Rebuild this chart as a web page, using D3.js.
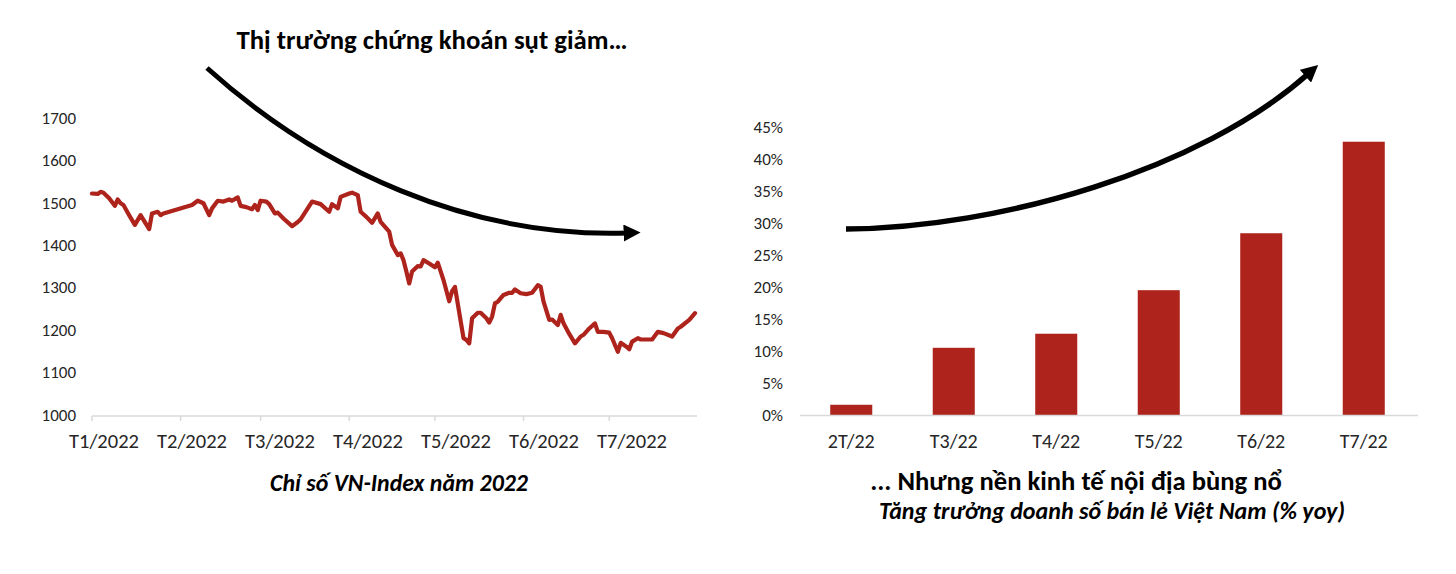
<!DOCTYPE html>
<html><head><meta charset="utf-8">
<script src="https://cdn.jsdelivr.net/npm/d3@7"></script>
<style>html,body{margin:0;padding:0;background:#fff;}svg{display:block;}</style>
</head><body>
<svg id="c" width="1456" height="574"></svg>
<script>
// ---------- DATA ----------
const vnDates = ["2022-01-01","2022-01-03","2022-01-04","2022-01-05","2022-01-07","2022-01-09","2022-01-10","2022-01-11","2022-01-12","2022-01-14","2022-01-16","2022-01-18","2022-01-21","2022-01-22","2022-01-24","2022-01-25","2022-01-26",
"2022-02-05","2022-02-07","2022-02-09","2022-02-11","2022-02-12","2022-02-14","2022-02-16","2022-02-18","2022-02-19","2022-02-21","2022-02-22","2022-02-24","2022-02-26","2022-02-27","2022-02-28",
"2022-03-01","2022-03-03","2022-03-04","2022-03-06","2022-03-07","2022-03-09","2022-03-12","2022-03-14","2022-03-15","2022-03-19","2022-03-22","2022-03-25","2022-03-26","2022-03-28","2022-03-29",
"2022-04-01","2022-04-02","2022-04-03","2022-04-04","2022-04-05","2022-04-07","2022-04-09","2022-04-11","2022-04-12","2022-04-15","2022-04-16","2022-04-18","2022-04-19","2022-04-20","2022-04-21","2022-04-22","2022-04-23","2022-04-25","2022-04-26","2022-04-27","2022-04-29",
"2022-05-01","2022-05-02","2022-05-04","2022-05-06","2022-05-07","2022-05-08","2022-05-11","2022-05-12","2022-05-13","2022-05-14","2022-05-16","2022-05-17","2022-05-19","2022-05-20","2022-05-21","2022-05-22","2022-05-23","2022-05-25","2022-05-27","2022-05-28","2022-05-29","2022-05-31",
"2022-06-02","2022-06-04","2022-06-06","2022-06-07","2022-06-08","2022-06-10","2022-06-11","2022-06-13","2022-06-14","2022-06-15","2022-06-17","2022-06-19","2022-06-21","2022-06-22","2022-06-24","2022-06-26","2022-06-27","2022-06-29",
"2022-07-01","2022-07-02","2022-07-04","2022-07-05","2022-07-07","2022-07-08","2022-07-09","2022-07-11","2022-07-12","2022-07-16","2022-07-18","2022-07-20","2022-07-23","2022-07-25","2022-07-26","2022-07-29","2022-07-31"];
const vnValues = [1522,1521,1526,1524,1511,1493,1508,1499,1495,1471,1448,1471,1438,1475,1479,1471,1475,
1495,1505,1499,1471,1487,1505,1503,1508,1505,1513,1493,1490,1485,1495,1483,
1505,1503,1497,1475,1477,1463,1445,1455,1461,1503,1497,1479,1497,1487,1514,
1522,1524,1521,1518,1479,1467,1453,1475,1455,1432,1401,1377,1381,1365,1338,1310,1338,1351,1350,1365,1357,
1348,1359,1318,1268,1292,1302,1181,1177,1169,1228,1241,1241,1228,1218,1232,1263,1267,1283,1288,1288,1296,1287,
1285,1288,1306,1302,1267,1224,1225,1212,1236,1216,1191,1169,1185,1189,1204,1216,1196,1196,
1194,1181,1149,1170,1161,1155,1173,1181,1178,1178,1196,1193,1185,1204,1208,1224,1240];
const vnYTicks = [1000,1100,1200,1300,1400,1500,1600,1700];
const vnMonthLabels = ["T1/2022","T2/2022","T3/2022","T4/2022","T5/2022","T6/2022","T7/2022"];

const retailCats = ["2T/22","T3/22","T4/22","T5/22","T6/22","T7/22"];
const retailValues = [1.6, 10.5, 12.7, 19.5, 28.4, 42.7];
const retailYTicks = [0,5,10,15,20,25,30,35,40,45];

const titleLeft = "Thị trường chứng khoán sụt giảm…";
const captionLeft = "Chỉ số VN-Index năm 2022";
const titleRight = "... Nhưng nền kinh tế nội địa bùng nổ";
const captionRight = "Tăng trưởng doanh số bán lẻ Việt Nam (% yoy)";

// ---------- STYLE ----------
const RED = "#ae231b";
const FONT = "Carlito, Calibri, 'Liberation Sans', Arial, sans-serif";
const TXT = "#262626";
const AXIS = "#d9d9d9";

const svg = d3.select("#c");
const parse = d3.timeParse("%Y-%m-%d");
const series = vnDates.map((d,i)=>({date:parse(d), value:vnValues[i]}));

function fitText(sel, width){
  const node = sel.node();
  const fs = parseFloat(sel.attr("font-size"));
  const w = node.getComputedTextLength();
  if (w > 0) sel.attr("font-size", (fs*width/w).toFixed(2));
  return sel;
}

// ---------- LEFT CHART ----------
const x = d3.scaleTime().domain([parse("2022-01-01"), parse("2022-07-31")]).range([92, 695]);
const y = d3.scaleLinear().domain([1000,1700]).range([415,118]);
const xLab = d3.scalePoint().domain(vnMonthLabels).range([104, 632]);

const gL = svg.append("g");
gL.append("line").attr("x1",92).attr("x2",697).attr("y1",416).attr("y2",416)
  .attr("stroke",AXIS).attr("stroke-width",1.5);
gL.selectAll(".tk").data(d3.timeMonth.range(parse("2022-01-01"), parse("2022-08-01")))
  .join("line").attr("x1",d=>x(d)).attr("x2",d=>x(d)).attr("y1",416).attr("y2",421)
  .attr("stroke",AXIS).attr("stroke-width",1.5);
gL.selectAll(".yl").data(vnYTicks).join("text")
  .attr("x",76).attr("y",d=>y(d)).attr("dy","0.34em").attr("text-anchor","end")
  .attr("font-family",FONT).attr("font-size",17).attr("fill",TXT).text(d=>d);
gL.selectAll(".xl").data(vnMonthLabels).join("text")
  .attr("x",d=>xLab(d)).attr("y",441).attr("dy","0.34em").attr("text-anchor","middle")
  .attr("font-family",FONT).attr("font-size",20.5).attr("fill",TXT).text(d=>d);
gL.append("path").datum(series)
  .attr("d", d3.line().x(d=>x(d.date)).y(d=>y(d.value)))
  .attr("fill","none").attr("stroke",RED).attr("stroke-width",4.2)
  .attr("stroke-linejoin","round").attr("stroke-linecap","round");

// ---------- RIGHT CHART ----------
const xb = d3.scaleBand().domain(retailCats).range([800,1415]).paddingInner(0.59).paddingOuter(0.295);
const yb = d3.scaleLinear().domain([0,45]).range([415,127]);
const gR = svg.append("g");
gR.selectAll("rect").data(retailValues).join("rect")
  .attr("x",(d,i)=>xb(retailCats[i])).attr("width",xb.bandwidth())
  .attr("y",d=>yb(d)).attr("height",d=>yb(0)-yb(d)).attr("fill",RED);
gR.append("line").attr("x1",800).attr("x2",1418).attr("y1",415.5).attr("y2",415.5)
  .attr("stroke",AXIS).attr("stroke-width",1.5);
gR.selectAll(".yl").data(retailYTicks).join("text")
  .attr("x",783).attr("y",d=>yb(d)).attr("dy","0.34em").attr("text-anchor","end")
  .attr("font-family",FONT).attr("font-size",17).attr("fill",TXT).text(d=>d+"%");
gR.selectAll(".xl").data(retailCats).join("text")
  .attr("x",d=>xb(d)+xb.bandwidth()/2).attr("y",441).attr("dy","0.34em").attr("text-anchor","middle")
  .attr("font-family",FONT).attr("font-size",20).attr("fill",TXT).text(d=>d);

// ---------- ARROWS ----------
const defs = svg.append("defs");
defs.append("marker").attr("id","ah").attr("viewBox","0 0 10 10").attr("refX",2).attr("refY",5)
  .attr("markerUnits","userSpaceOnUse").attr("markerWidth",17).attr("markerHeight",17).attr("orient","auto")
  .append("path").attr("d","M0,0 L10,5 L0,10 Z").attr("fill","#000");
svg.append("path").attr("d","M207,68 C320,170 470,238 627,233")
  .attr("fill","none").attr("stroke","#000").attr("stroke-width",5).attr("marker-end","url(#ah)");
svg.append("path").attr("d","M846,229 C1000,228 1200,170 1308,74")
  .attr("fill","none").attr("stroke","#000").attr("stroke-width",5.5).attr("marker-end","url(#ah)");

// ---------- TEXTS ----------
fitText(svg.append("text").attr("x",432).attr("y",49).attr("text-anchor","middle")
  .attr("font-family",FONT).attr("font-weight","bold").attr("font-size",24).attr("fill","#000")
  .text(titleLeft), 391);
fitText(svg.append("text").attr("x",399).attr("y",491).attr("text-anchor","middle")
  .attr("font-family",FONT).attr("font-weight","bold").attr("font-style","italic").attr("font-size",20).attr("fill","#000")
  .text(captionLeft), 258);
fitText(svg.append("text").attr("x",1076).attr("y",490).attr("text-anchor","middle")
  .attr("font-family",FONT).attr("font-weight","bold").attr("font-size",22).attr("fill","#000")
  .text(titleRight), 412);
fitText(svg.append("text").attr("x",1112).attr("y",519).attr("text-anchor","middle")
  .attr("font-family",FONT).attr("font-weight","bold").attr("font-style","italic").attr("font-size",19).attr("fill","#000")
  .text(captionRight), 466);
</script>
</body></html>
